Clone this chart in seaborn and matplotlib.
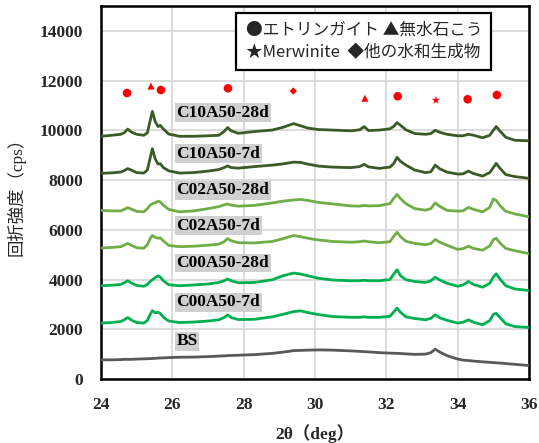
import matplotlib
matplotlib.use("Agg")
import matplotlib.pyplot as plt
import seaborn as sns
import pandas as pd

# 2θ sampling positions (deg), shared by all patterns
two_theta = [24.0, 24.3, 24.55, 24.65, 24.75, 24.85, 25.0, 25.2, 25.3, 25.38,
             25.44, 25.52, 25.6, 25.66, 25.75, 25.9, 26.2, 26.6, 27.0, 27.3,
             27.45, 27.55, 27.65, 27.85, 28.3, 28.8, 29.1, 29.4, 29.6, 29.8,
             30.1, 30.5, 31.0, 31.25, 31.38, 31.5, 31.8, 32.1, 32.2, 32.3,
             32.4, 32.55, 32.8, 33.1, 33.25, 33.37, 33.5, 33.7, 34.0, 34.15,
             34.3, 34.45, 34.7, 34.9, 35.0, 35.08, 35.2, 35.35, 35.6, 36.0]

# Diffraction intensities (cps, offset per sample)
c10a50_28d = [9760, 9800, 9840, 9900, 10050, 9930, 9840, 9800, 9900, 10400,
              10760, 10350, 10150, 10200, 10050, 9850, 9760, 9760, 9780, 9800,
              9950, 10110, 9980, 9880, 9950, 10010, 10120, 10270, 10180, 10090,
              10030, 10010, 9980, 10020, 10150, 9990, 10010, 10060, 10150, 10310,
              10200, 10020, 9870, 9840, 9870, 10000, 9920, 9840, 9780, 9780,
              9840, 9800, 9700, 9800, 10000, 10150, 9950, 9720, 9600, 9580]
c10a50_7d = [8270, 8290, 8320, 8380, 8460, 8400, 8300, 8280, 8400, 8900,
             9260, 8850, 8640, 8660, 8500, 8370, 8280, 8300, 8360, 8420,
             8500, 8570, 8500, 8480, 8540, 8600, 8650, 8720, 8710, 8640,
             8560, 8520, 8500, 8540, 8630, 8530, 8470, 8520, 8650, 8910,
             8750, 8600, 8400, 8300, 8330, 8600, 8450, 8320, 8240, 8250,
             8360, 8260, 8160, 8300, 8500, 8670, 8450, 8220, 8140, 8070]
c02a50_28d = [6780, 6760, 6760, 6820, 6890, 6830, 6740, 6720, 6850, 6990,
              7050, 7090, 7150, 7120, 6990, 6820, 6720, 6760, 6850, 6930,
              7000, 7040, 6990, 6950, 6980, 7080, 7150, 7200, 7220, 7180,
              7100, 7040, 6960, 6950, 6980, 6960, 6970, 7050, 7250, 7420,
              7250, 7050, 6850, 6790, 6850, 7080, 6940, 6780, 6750, 6760,
              6900, 6820, 6720, 6900, 7240, 7180, 6950, 6740, 6640, 6520]
c02a50_7d = [5270, 5290, 5320, 5380, 5450, 5380, 5280, 5260, 5400, 5650,
             5770, 5700, 5660, 5680, 5550, 5370, 5320, 5340, 5380, 5420,
             5520, 5650, 5560, 5480, 5470, 5530, 5640, 5770, 5720, 5660,
             5590, 5530, 5500, 5520, 5550, 5520, 5480, 5520, 5720, 5900,
             5720, 5540, 5450, 5400, 5450, 5610, 5500, 5380, 5210, 5240,
             5340, 5250, 5180, 5350, 5600, 5660, 5450, 5250, 5160, 5040]
c00a50_28d = [3750, 3770, 3800, 3870, 3950, 3860, 3760, 3730, 3800, 3920,
              3990, 4080, 4150, 4100, 3950, 3790, 3750, 3780, 3820, 3880,
              3950, 4020, 3950, 3870, 3880, 3990, 4150, 4260, 4220, 4150,
              4050, 3980, 3950, 3950, 3970, 3950, 3950, 4000, 4200, 4390,
              4150, 3990, 3920, 3880, 3950, 4090, 3980, 3850, 3730, 3780,
              3920, 3800, 3690, 3850, 4100, 4230, 4000, 3750, 3620, 3560]
c00a50_7d = [2250, 2270, 2310, 2380, 2470, 2370, 2270, 2250, 2350, 2600,
             2750, 2660, 2680, 2640, 2480, 2330, 2270, 2290, 2330, 2380,
             2470, 2580, 2470, 2390, 2400, 2500, 2600, 2710, 2740, 2670,
             2590, 2510, 2480, 2480, 2500, 2480, 2480, 2520, 2680, 2850,
             2680, 2500, 2430, 2380, 2440, 2580, 2460, 2360, 2250, 2280,
             2380, 2280, 2180, 2350, 2600, 2640, 2450, 2220, 2110, 2070]
bs = [770, 770, 780, 790, 790, 790, 800, 810, 815, 820,
      825, 830, 840, 845, 850, 860, 875, 880, 900, 920,
      930, 940, 945, 955, 980, 1030, 1080, 1140, 1150, 1160,
      1170, 1160, 1130, 1110, 1100, 1090, 1060, 1040, 1035, 1030,
      1025, 1010, 990, 1000, 1060, 1200, 1080, 940, 800, 760,
      740, 720, 690, 670, 660, 650, 640, 620, 590, 540]

sample_names = ["C10A50-28d", "C10A50-7d", "C02A50-28d", "C02A50-7d",
                "C00A50-28d", "C00A50-7d", "BS"]
sample_curves = [c10a50_28d, c10a50_7d, c02a50_28d, c02a50_7d,
                 c00a50_28d, c00a50_7d, bs]
sample_colors = ["#3A5A27", "#3A5A27", "#70AD47", "#70AD47",
                 "#00B050", "#00B050", "#595959"]
label_y = [10710, 9060, 7580, 6170, 4660, 3085, 1513]

# Phase identification markers
peak_2theta = [24.73, 25.40, 25.68, 27.56, 29.39, 31.40, 32.32, 33.39, 34.28, 35.10]
peak_height = [11500, 11780, 11620, 11690, 11580, 11290, 11370, 11210, 11250, 11420]
peak_phase = ["E", "G", "E", "E", "H", "G", "E", "M", "E", "E"]

sns.set_theme(style="whitegrid")
plt.rcParams["font.family"] = ["Liberation Serif", "Noto Sans CJK JP", "DejaVu Sans"]

fig = plt.figure(figsize=(5.39, 4.43), dpi=100)
ax = fig.add_axes([0.1874, 0.1445, 0.794, 0.842])

long = pd.DataFrame({
    "2θ": [t for _ in sample_names for t in two_theta],
    "I": [v for curve in sample_curves for v in curve],
    "sample": [n for n in sample_names for _ in two_theta],
})
sns.lineplot(data=long, x="2θ", y="I", hue="sample", hue_order=sample_names,
             palette=dict(zip(sample_names, sample_colors)), estimator=None,
             linewidth=2.0, legend=False, ax=ax, zorder=3)

marks = pd.DataFrame({"x": peak_2theta, "y": peak_height, "phase": peak_phase})
sns.scatterplot(data=marks, x="x", y="y", style="phase",
                markers={"E": "o", "G": "^", "M": "*", "H": "D"},
                size="phase", sizes={"E": 38, "G": 26, "M": 40, "H": 14},
                color="#FF0000", edgecolor="none", legend=False, ax=ax, zorder=4)

for name, y in zip(sample_names, label_y):
    ax.text(26.12, y, name, ha="left", va="center", fontsize=12.5,
            fontweight="bold", family="Liberation Serif", color="black",
            bbox=dict(boxstyle="square,pad=0.08", facecolor="#D0D0D0",
                      edgecolor="none"), zorder=5)

# Phase key drawn as a framed two-line text block
key_font = ["Noto Sans CJK JP", "DejaVu Sans"]
ax.text(0.338, 0.905, "●エトリンガイト ▲無水石こう\n★Merwinite  ◆他の水和生成物",
        transform=ax.transAxes, ha="left", va="center", fontsize=12,
        linespacing=1.4, family=key_font,
        bbox=dict(boxstyle="square,pad=0.55", facecolor="white",
                  edgecolor="black", linewidth=1.6), zorder=6)

ax.set_xlim(24, 36)
ax.set_ylim(0, 15000)
ax.set_xticks([24, 26, 28, 30, 32, 34, 36])
ax.set_yticks([0, 2000, 4000, 6000, 8000, 10000, 12000, 14000])
ax.grid(True, color="#D9D9D9", linewidth=1.3)
ax.set_facecolor("white")
for sp in ax.spines.values():
    sp.set_color("black")
    sp.set_linewidth(1.8)
ax.tick_params(axis="both", length=0, pad=13, labelsize=12.5)
for lab in ax.get_xticklabels() + ax.get_yticklabels():
    lab.set_fontweight("bold")
    lab.set_family("Liberation Serif")

ax.set_xlabel("2θ（deg）", fontsize=12.5, fontweight="bold", labelpad=8,
              family=["Liberation Serif", "Noto Sans CJK JP"])
ax.set_ylabel("回折強度（cps）", fontsize=12.5, labelpad=10,
              family=["Liberation Serif", "Noto Sans CJK JP"])

fig.savefig("out.png", dpi=100, facecolor="white")
